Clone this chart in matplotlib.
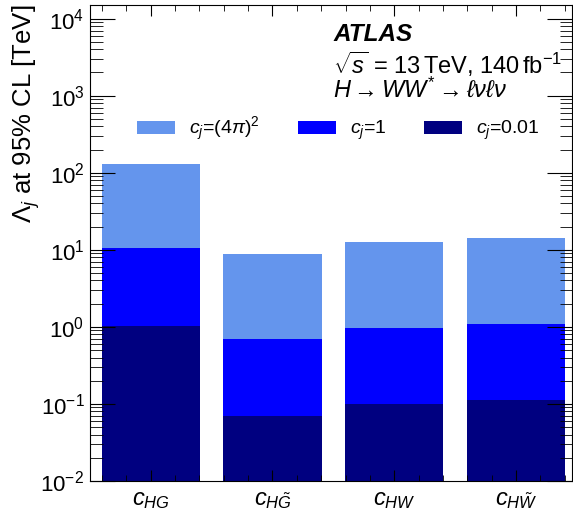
import numpy as np
import matplotlib
matplotlib.use("Agg")
import matplotlib.pyplot as plt
from matplotlib.ticker import FixedLocator, NullFormatter, LogFormatterMathtext

plt.rcParams["font.family"] = ["Liberation Sans", "DejaVu Sans"]
plt.rcParams["mathtext.fontset"] = "custom"
plt.rcParams["mathtext.rm"] = "Liberation Sans"
plt.rcParams["mathtext.it"] = "Liberation Sans:italic"
plt.rcParams["mathtext.bf"] = "Liberation Sans:bold"

# operators and lower limits on Lambda_j [TeV] for three coupling values
operators = [r"$c_{HG}$", r"$c_{H\tilde{G}}$", r"$c_{HW}$", r"$c_{H\tilde{W}}$"]
lim_4pi2 = [130.0, 8.8, 12.6, 14.2]
lim_1 = [10.5, 0.70, 0.98, 1.10]
lim_001 = [1.04, 0.070, 0.099, 0.113]

series = [
    (lim_4pi2, "#6495ED", r"$c_j$=(4$\pi$)$^2$"),
    (lim_1, "#0000FF", r"$c_j$=1"),
    (lim_001, "#000080", r"$c_j$=0.01"),
]

fig = plt.figure(figsize=(5.73, 5.14), dpi=100)
ax = fig.add_axes([0.157, 0.0642, 0.841, 0.926])
ax.set_yscale("log")

x = np.arange(len(operators))
for vals, col, lab in series:
    ax.bar(x, vals, width=0.807, color=col, label=lab, zorder=1)

ax.set_ylim(1e-2, 1.5e4)
ax.set_xlim(-0.5, 3.46)

ax.set_xticks(x)
ax.set_xticklabels(operators, fontsize=17)
ax.xaxis.set_minor_locator(FixedLocator(np.concatenate([x + d for d in (-0.4, -0.2, 0.2, 0.4)])))

# decades shown on the y axis, with 2..9 minor ticks in between
decades = np.arange(-2, 5)
ax.yaxis.set_major_locator(FixedLocator(10.0 ** decades))
ax.yaxis.set_major_formatter(LogFormatterMathtext())
minors = [m * 10.0 ** d for d in decades for m in range(2, 10) if m * 10.0 ** d < 1.5e4]
ax.yaxis.set_minor_locator(FixedLocator(minors))
ax.yaxis.set_minor_formatter(NullFormatter())

ax.tick_params(axis="both", which="both", direction="in", top=True, right=True, zorder=5)
ax.tick_params(axis="y", which="major", length=18, labelsize=16, pad=4)
ax.tick_params(axis="y", which="minor", length=9)
ax.tick_params(axis="x", which="major", length=8, pad=6)
ax.tick_params(axis="x", which="minor", length=4)
for sp in ax.spines.values():
    sp.set_zorder(5)

ax.set_ylabel(r"$\Lambda_j$ at 95% CL [TeV]", fontsize=18.5, loc="top")
ax.yaxis.set_label_coords(-0.0996, 1.0)

ax.text(0.505, 0.924, "ATLAS", transform=ax.transAxes, fontsize=17.5,
        fontweight="bold", fontstyle="italic", va="baseline")
ax.text(0.505, 0.855, r"$\sqrt{s}$ = 13$\,$TeV, 140$\,$fb$^{-1}$", transform=ax.transAxes,
        fontsize=17, va="baseline")
ax.text(0.505, 0.807, r"$H \rightarrow WW^{*} \rightarrow \ell\nu\ell\nu$", transform=ax.transAxes,
        fontsize=17, va="baseline")

ax.legend(loc="center left", bbox_to_anchor=(0.0975, 0.7395), ncol=3, frameon=False,
          fontsize=14, handlelength=1.95, handleheight=0.65, handletextpad=0.72,
          columnspacing=1.96, borderaxespad=0, borderpad=0)

fig.savefig("out.png", dpi=100)
